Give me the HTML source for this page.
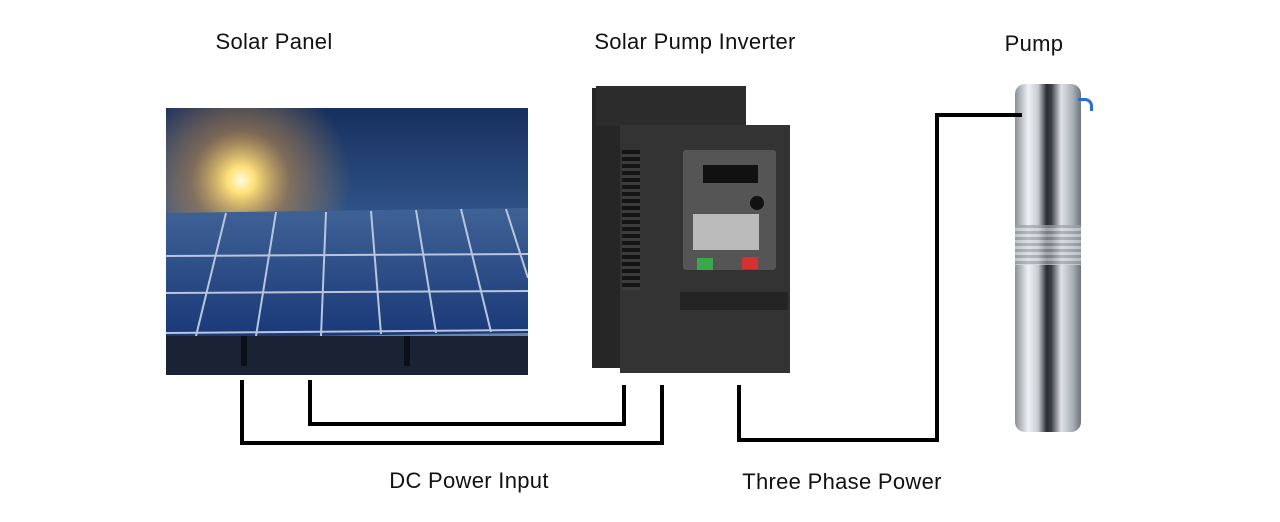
<!DOCTYPE html>
<html><head><style>
body{margin:0;width:1280px;height:522px;background:#fff;position:relative;overflow:hidden;font-family:"Liberation Sans",sans-serif}
.t{position:absolute;font-size:22px;letter-spacing:0.3px;color:#111;white-space:nowrap;transform:translateX(-50%)}
.a{position:absolute}
</style></head><body>
<div class="t" style="left:274px;top:29px">Solar Panel</div>
<div class="t" style="left:695px;top:29px">Solar Pump Inverter</div>
<div class="t" style="left:1034px;top:31px">Pump</div>
<div class="t" style="left:469px;top:468px">DC Power Input</div>
<div class="t" style="left:842px;top:469px">Three Phase Power</div>

<!-- solar panel -->
<svg class="a" style="left:166px;top:108px" width="362" height="267">
<defs>
<linearGradient id="sky" x1="0" y1="0" x2="0" y2="1"><stop offset="0" stop-color="#162f5e"/><stop offset="0.6" stop-color="#3d669d"/><stop offset="1" stop-color="#7f98b6"/></linearGradient>
<radialGradient id="sun" cx="75" cy="72" r="110" gradientUnits="userSpaceOnUse"><stop offset="0" stop-color="#fffbe0"/><stop offset="0.12" stop-color="#ffe27a"/><stop offset="0.45" stop-color="#c88d44" stop-opacity="0.55"/><stop offset="1" stop-color="#c88d44" stop-opacity="0"/></radialGradient>
<linearGradient id="pv" x1="0" y1="0" x2="0" y2="1"><stop offset="0" stop-color="#3f6296"/><stop offset="1" stop-color="#1a3878"/></linearGradient>
</defs>
<rect width="362" height="267" fill="url(#sky)"/>
<rect width="362" height="140" fill="url(#sun)"/>
<polygon points="0,105 362,100 362,225 0,230" fill="url(#pv)"/>
<g stroke="#b8c6dc" stroke-width="2" fill="none">
<line x1="0" y1="148" x2="362" y2="146"/><line x1="0" y1="185" x2="362" y2="183"/>
<line x1="0" y1="225" x2="362" y2="222"/>
<line x1="60" y1="105" x2="30" y2="228"/><line x1="110" y1="104" x2="90" y2="228"/><line x1="160" y1="104" x2="155" y2="228"/>
<line x1="205" y1="103" x2="215" y2="226"/><line x1="250" y1="102" x2="270" y2="225"/><line x1="295" y1="101" x2="325" y2="224"/><line x1="340" y1="101" x2="362" y2="170"/>
</g>
<rect y="228" width="362" height="39" fill="#1a2233"/>
<rect x="75" y="228" width="6" height="30" fill="#0a0f18"/><rect x="238" y="228" width="6" height="30" fill="#0a0f18"/>
</svg>

<!-- inverter -->
<div class="a" style="left:592px;top:88px;width:40px;height:280px;background:#262626"></div>
<div class="a" style="left:596px;top:86px;width:150px;height:40px;background:#2c2c2c"></div>
<div class="a" style="left:620px;top:125px;width:170px;height:248px;background:#333"></div>
<div class="a" style="left:622px;top:150px;width:18px;height:140px;background:repeating-linear-gradient(#151515 0 4px,#3c3c3c 4px 7px)"></div>
<div class="a" style="left:683px;top:150px;width:93px;height:120px;background:#555;border-radius:3px"></div>
<div class="a" style="left:703px;top:165px;width:55px;height:18px;background:#111"></div>
<div class="a" style="left:693px;top:214px;width:66px;height:36px;background:#bbb"></div>
<div class="a" style="left:697px;top:258px;width:16px;height:12px;background:#3aa84a"></div>
<div class="a" style="left:742px;top:257px;width:16px;height:12px;background:#d83030"></div>
<div class="a" style="left:750px;top:196px;width:14px;height:14px;background:#111;border-radius:50%"></div>
<div class="a" style="left:680px;top:292px;width:108px;height:18px;background:#242424"></div>

<!-- pump -->
<div class="a" style="left:1015px;top:84px;width:66px;height:348px;border-radius:10px;background:linear-gradient(90deg,#8a9098,#eef1f4 20%,#c7ccd2 35%,#2a2e34 48%,#3a3f46 55%,#dfe3e8 70%,#a7adb5 88%,#6d737b)"></div>
<div class="a" style="left:1015px;top:225px;width:66px;height:40px;background:repeating-linear-gradient(#9aa0a8 0 3px,#d6dade 3px 6px);opacity:.7"></div>
<div class="a" style="left:1078px;top:98px;width:12px;height:10px;border:3px solid #2a6fd0;border-left:none;border-bottom:none;border-radius:0 8px 0 0"></div>

<!-- wires -->
<svg class="a" style="left:0;top:0" width="1280" height="522">
<g stroke="#000" stroke-width="4" fill="none">
<polyline points="242,380 242,443 662,443 662,385"/>
<polyline points="310,380 310,424 624,424 624,385"/>
<polyline points="739,385 739,440 937,440 937,115 1022,115"/>
</g>
</svg>
</body></html>
